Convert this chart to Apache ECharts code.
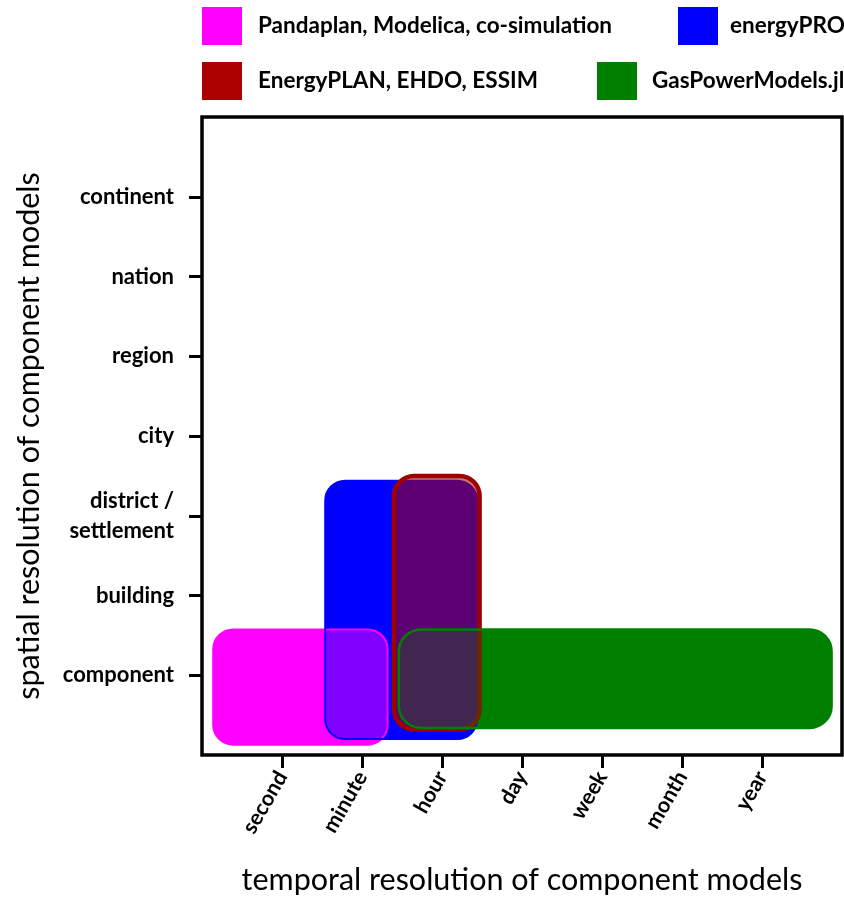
<!DOCTYPE html>
<html>
<head>
<meta charset="utf-8">
<script src="https://cdn.jsdelivr.net/npm/echarts@6/dist/echarts.min.js"></script>
<style>html,body{margin:0;padding:0;background:#fff}#c{width:844px;height:901px}</style>
</head>
<body>
<div id="c"></div>
<script>
// Tick labels
const xLabels = ['second', 'minute', 'hour', 'day', 'week', 'month', 'year'];
const yLabels = ['component', 'building', 'district /\nsettlement', 'city', 'region', 'nation', 'continent'];
// Box extents: [xStart, xEnd, yStart, yEnd] in axis units (tick k at value k)
const seriesNames = ['Pandaplan, Modelica, co-simulation', 'energyPRO', 'EnergyPLAN, EHDO, ESSIM', 'GasPowerModels.jl'];
const pandaplanBox = [0.14, 2.32, 0.13, 1.575];
const energyproBox = [1.54, 3.44, 0.20, 3.44];
const energyplanBox = [2.40, 3.47, 0.32, 3.50];
const gaspowerBox = [2.46, 7.87, 0.34, 1.575];
const colors = ['#ff00ff', '#0000ff', '#aa0000', '#008000'];

const FONT = 'Lato';
const styles = [
  {opaque: true, z2o: 2, overlayFill: 'rgba(255,0,255,0.5)', stroke: '#ff00ff', lw: 2, z2: 11, r: 20},
  {opaque: true, z2o: 3, overlayFill: 'rgba(0,0,255,0)', stroke: '#0000ff', lw: 2, z2: 12, r: 20},
  {opaque: false, z2o: 0, overlayFill: 'rgba(170,0,0,0.55)', stroke: '#a00000', lw: 4.5, z2: 13, r: 20},
  {opaque: true, z2o: 1, overlayFill: 'rgba(0,128,0,0.3)', stroke: '#008000', lw: 2.5, z2: 14, r: 22}
];
const boxes = [pandaplanBox, energyproBox, energyplanBox, gaspowerBox];

function makeRender(idx) {
  const st = styles[idx];
  return function (params, api) {
    const p0 = api.coord([api.value(0), api.value(3)]);
    const p1 = api.coord([api.value(1), api.value(2)]);
    const shape = {x: p0[0], y: p0[1], width: p1[0] - p0[0], height: p1[1] - p0[1], r: st.r};
    const children = [];
    if (st.opaque) {
      children.push({type: 'rect', shape: shape, z2: st.z2o, style: {fill: colors[idx], stroke: null}});
    }
    children.push({type: 'rect', shape: shape, z2: st.z2, style: {fill: st.overlayFill, stroke: st.stroke, lineWidth: st.lw}});
    return {type: 'group', children: children};
  };
}

const series = boxes.map((b, i) => ({
  name: seriesNames[i],
  type: 'custom',
  renderItem: makeRender(i),
  itemStyle: {color: colors[i]},
  encode: {x: [0, 1], y: [2, 3]},
  data: [b],
  clip: false,
  z: 2
}));

const legendPos = [[202, 7], [678, 7], [202, 62], [597, 62]];
const legendTextGap = [11, 7, 11, 10];
const legends = seriesNames.map((n, i) => ({
  data: [n],
  left: legendPos[i][0], top: legendPos[i][1],
  padding: 0,
  icon: 'rect',
  itemWidth: 40, itemHeight: 38,
  selectedMode: false,
  textStyle: {fontFamily: FONT, fontWeight: 'bold', fontSize: 22.5, color: '#000', padding: [0, 0, 0, legendTextGap[i]]}
}));

const chart = echarts.init(document.getElementById('c'), null, {renderer: 'canvas'});
chart.setOption({
  animation: false,
  backgroundColor: '#fff',
  legend: legends,
  grid: {left: 202, top: 117, width: 640, height: 640, show: true, borderColor: '#000', borderWidth: 3.5, backgroundColor: 'transparent'},
  xAxis: {
    type: 'value', min: 0, max: 8, interval: 1,
    splitLine: {show: false},
    axisLine: {show: false},
    axisTick: {show: true, customValues: [1, 2, 3, 4, 5, 6, 7], length: 13, lineStyle: {color: '#000', width: 3}},
    axisLabel: {customValues: [1, 2, 3, 4, 5, 6, 7], rotate: 60, margin: 18,
      formatter: v => xLabels[Math.round(v) - 1] || '',
      fontFamily: FONT, fontWeight: 'bold', fontSize: 21.5, color: '#000'},
    name: 'temporal resolution of component models', nameLocation: 'middle', nameGap: 110,
    nameTextStyle: {fontFamily: FONT, fontSize: 30.5, color: '#000'}
  },
  yAxis: {
    type: 'value', min: 0, max: 8, interval: 1,
    splitLine: {show: false},
    axisLine: {show: false},
    axisTick: {show: true, customValues: [1, 2, 3, 4, 5, 6, 7], length: 13, lineStyle: {color: '#000', width: 3}},
    axisLabel: {customValues: [1, 2, 3, 4, 5, 6, 7], margin: 28,
      formatter: v => yLabels[Math.round(v) - 1] || '',
      fontFamily: FONT, fontWeight: 'bold', fontSize: 22, color: '#000', lineHeight: 30},
    name: 'spatial resolution of component models', nameLocation: 'middle', nameGap: 157, nameRotate: 90,
    nameTextStyle: {fontFamily: FONT, fontSize: 30.5, color: '#000'}
  },
  series: series
});
</script>
</body>
</html>
